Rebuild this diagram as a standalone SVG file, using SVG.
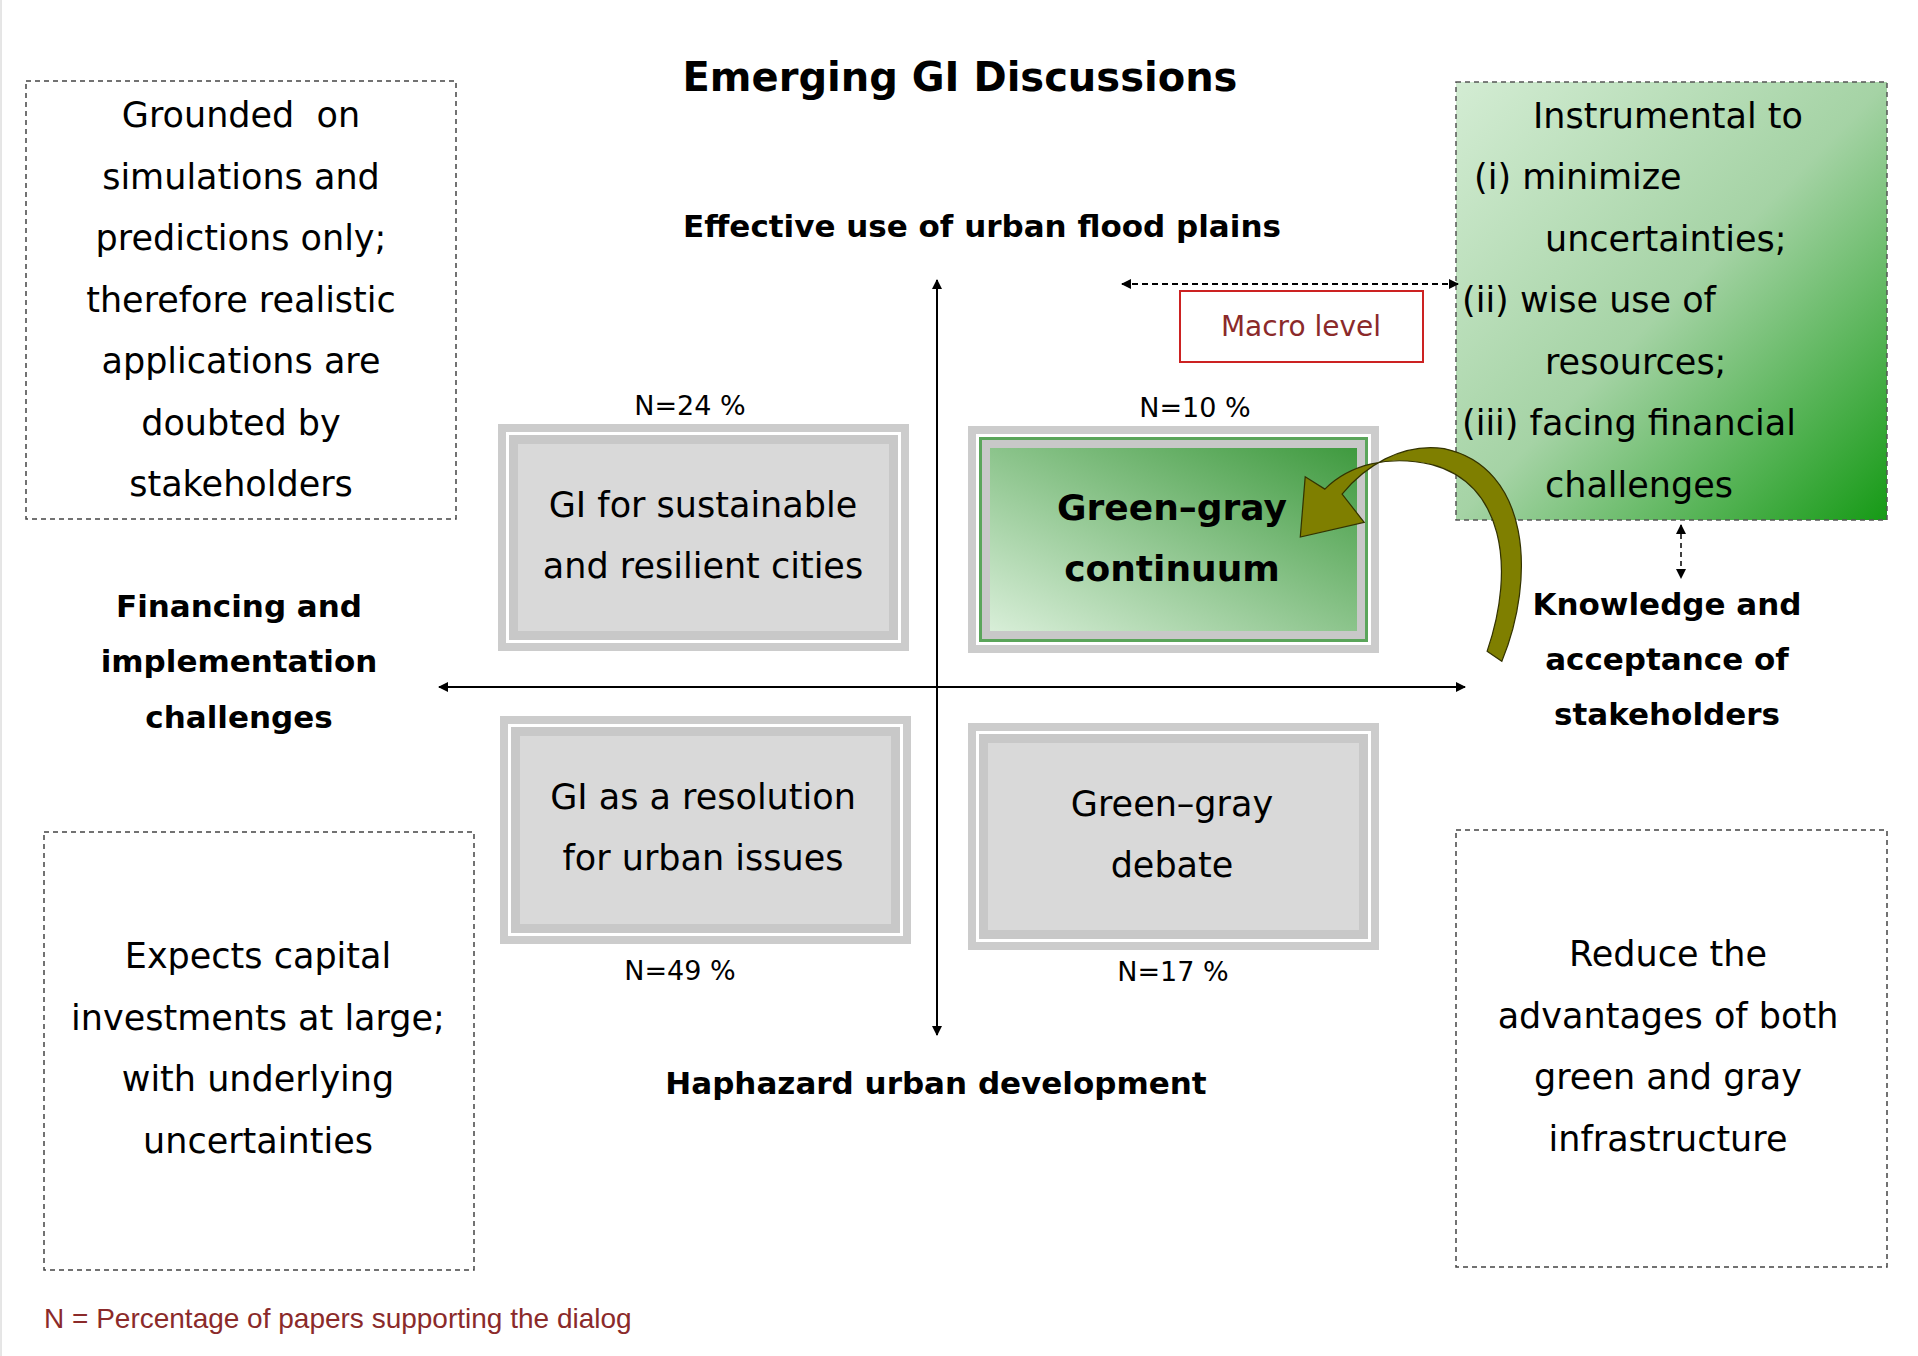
<svg xmlns="http://www.w3.org/2000/svg" width="1918" height="1356" viewBox="0 0 1918 1356">
<style>
text{font-family:"DejaVu Sans","Liberation Sans",sans-serif;fill:#000}
.b{font-size:35px;text-anchor:middle}
.l{font-size:35px}
.ax{font-size:31px;font-weight:bold;text-anchor:middle}
.n{font-size:27px;text-anchor:middle}
.dash{fill:none;stroke:#444;stroke-width:1.5;stroke-dasharray:5,4}
</style>
<defs>
<linearGradient id="gr" x1="0" y1="1" x2="1" y2="0"><stop offset="0" stop-color="#d8eed8"/><stop offset="1" stop-color="#3f9a3f"/></linearGradient>
<linearGradient id="gr2" x1="0" y1="0" x2="1" y2="1"><stop offset="0" stop-color="#d3ecd3"/><stop offset="0.5" stop-color="#a5d3a5"/><stop offset="1" stop-color="#169a16"/></linearGradient>
<marker id="ah" markerWidth="10" markerHeight="10" refX="9" refY="5" orient="auto-start-reverse" markerUnits="userSpaceOnUse"><path d="M0,0 L10,5 L0,10 Z" fill="#000"/></marker>
</defs>
<rect width="1918" height="1356" fill="#fff"/>
<line x1="1" y1="0" x2="1" y2="1356" stroke="#ccc"/>
<text x="960" y="91" style="font-size:40px;font-weight:bold;text-anchor:middle">Emerging GI Discussions</text>
<text x="982" y="237" class="ax">Effective use of urban flood plains</text>
<text x="936" y="1094" class="ax">Haphazard urban development</text>
<g id="left-label"><text class="ax"><tspan x="239" y="617">Financing and</tspan><tspan x="239" y="672">implementation</tspan><tspan x="239" y="728">challenges</tspan></text></g>
<g id="right-label"><text class="ax"><tspan x="1667" y="615">Knowledge and</tspan><tspan x="1667" y="670">acceptance of</tspan><tspan x="1667" y="725">stakeholders</tspan></text></g>
<g id="box-tl"><rect x="26" y="81" width="430" height="438" class="dash"/>
<text class="b" xml:space="preserve"><tspan x="241" y="127">Grounded  on</tspan><tspan x="241" y="189">simulations and</tspan><tspan x="241" y="250">predictions only;</tspan><tspan x="241" y="312">therefore realistic</tspan><tspan x="241" y="373">applications are</tspan><tspan x="241" y="435">doubted by</tspan><tspan x="241" y="496">stakeholders</tspan></text></g>
<g id="box-tr"><rect x="1456" y="82" width="431" height="438" fill="url(#gr2)" stroke="#555" stroke-width="1.5" stroke-dasharray="5,4"/>
<text class="b" x="1668" y="128">Instrumental to</text>
<text class="l"><tspan x="1474" y="189">(i) minimize</tspan><tspan x="1545" y="251">uncertainties;</tspan><tspan x="1462" y="312">(ii) wise use of</tspan><tspan x="1545" y="374">resources;</tspan><tspan x="1462" y="435">(iii) facing financial</tspan><tspan x="1545" y="497">challenges</tspan></text></g>
<g id="macro"><rect x="1180" y="291" width="243" height="71" fill="#fff" stroke="#cc2222" stroke-width="2"/><text x="1301" y="336" style="font-size:28px;text-anchor:middle;fill:#8b2a2a">Macro level</text></g>
<g id="q-tl"><rect x="498" y="424" width="411" height="227" fill="#cccccc"/><rect x="506" y="432" width="395" height="211" fill="#fff"/><rect x="509" y="435" width="389" height="205" fill="#c8c8c8"/><rect x="518" y="444" width="371" height="187" fill="#d9d9d9"/>
<text class="b"><tspan x="703" y="517">GI for sustainable</tspan><tspan x="703" y="578">and resilient cities</tspan></text><text class="n" x="690" y="415">N=24 %</text></g>
<g id="q-tr"><rect x="968" y="426" width="411" height="227" fill="#cccccc"/><rect x="976" y="434" width="395" height="211" fill="#fff"/><rect x="979" y="437" width="389" height="205" fill="#5aa55a"/><rect x="982" y="440" width="383" height="199" fill="#c8c8c8"/><rect x="990" y="448" width="367" height="183" fill="url(#gr)"/>
<text class="ax" style="font-size:36px"><tspan x="1172" y="520">Green–gray</tspan><tspan x="1172" y="581">continuum</tspan></text><text class="n" x="1195" y="417">N=10 %</text></g>
<g id="q-bl"><rect x="500" y="716" width="411" height="228" fill="#cccccc"/><rect x="508" y="724" width="395" height="212" fill="#fff"/><rect x="511" y="727" width="389" height="206" fill="#c8c8c8"/><rect x="520" y="736" width="371" height="188" fill="#d9d9d9"/>
<text class="b"><tspan x="703" y="809">GI as a resolution</tspan><tspan x="703" y="870">for urban issues</tspan></text><text class="n" x="680" y="980">N=49 %</text></g>
<g id="q-br"><rect x="968" y="723" width="411" height="227" fill="#cccccc"/><rect x="976" y="731" width="395" height="211" fill="#fff"/><rect x="979" y="734" width="389" height="205" fill="#c8c8c8"/><rect x="988" y="743" width="371" height="187" fill="#d9d9d9"/>
<text class="b"><tspan x="1172" y="816">Green–gray</tspan><tspan x="1172" y="877">debate</tspan></text><text class="n" x="1173" y="981">N=17 %</text></g>
<g id="box-bl"><rect x="44" y="832" width="430" height="438" class="dash"/>
<text class="b"><tspan x="258" y="968">Expects capital</tspan><tspan x="258" y="1030">investments at large;</tspan><tspan x="258" y="1091">with underlying</tspan><tspan x="258" y="1153">uncertainties</tspan></text></g>
<g id="box-br"><rect x="1456" y="830" width="431" height="437" class="dash"/>
<text class="b"><tspan x="1668" y="966">Reduce the</tspan><tspan x="1668" y="1028">advantages of both</tspan><tspan x="1668" y="1089">green and gray</tspan><tspan x="1668" y="1151">infrastructure</tspan></text></g>
<text x="44" y="1328" style="font-size:28px;fill:#8b2a2a;font-family:'Liberation Sans',sans-serif">N = Percentage of papers supporting the dialog</text>
<g id="connectors">
<line x1="937" y1="1035" x2="937" y2="280" stroke="#000" stroke-width="2" marker-start="url(#ah)" marker-end="url(#ah)"/>
<line x1="439" y1="687" x2="1465" y2="687" stroke="#000" stroke-width="2" marker-start="url(#ah)" marker-end="url(#ah)"/>
<line x1="1122" y1="284" x2="1458" y2="284" stroke="#000" stroke-width="2" stroke-dasharray="6,4" marker-start="url(#ah)" marker-end="url(#ah)"/>
<line x1="1681" y1="525" x2="1681" y2="578" stroke="#000" stroke-width="1.5" stroke-dasharray="5,4" marker-start="url(#ah)" marker-end="url(#ah)"/>
<path transform="scale(1.229)" d="M1222,538 C1250,470 1245,380 1175,365 C1140,360 1110,380 1092,402 L1110,425 L1058,437 L1062,388 L1078,398 C1098,378 1130,370 1165,378 C1222,393 1234,460 1210,530 Z" fill="#7f7f00" stroke="#333300" stroke-width="1"/>
</g>
</svg>
